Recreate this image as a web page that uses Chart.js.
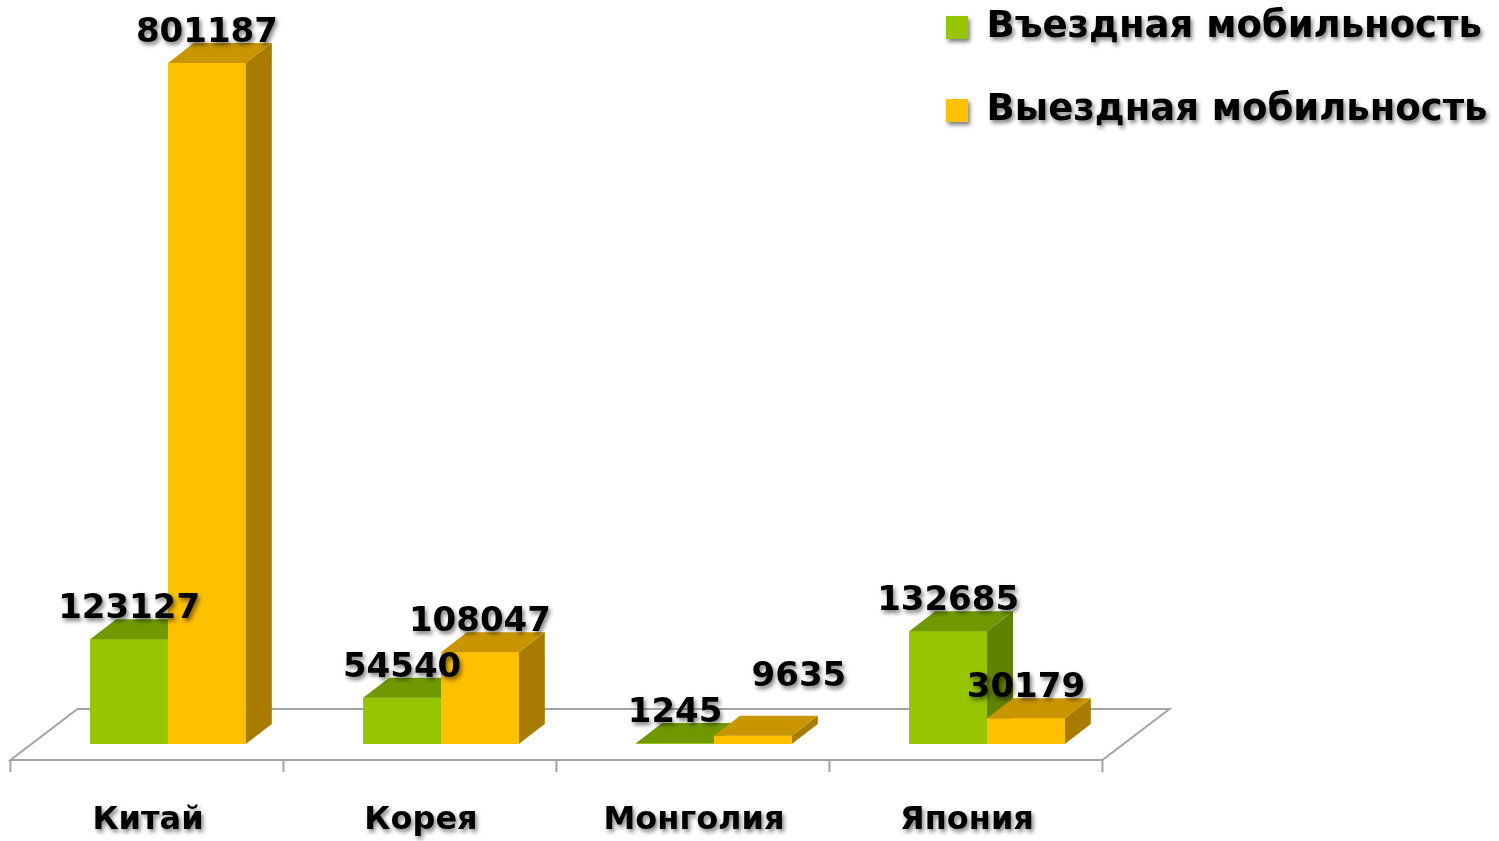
<!DOCTYPE html>
<html>
<head>
<meta charset="utf-8">
<script src="https://cdn.jsdelivr.net/npm/chart.js@4.4.1/dist/chart.umd.min.js"></script>
<style>
html,body{margin:0;padding:0;background:#ffffff;overflow:hidden;}
canvas{display:block;}
</style>
</head>
<body>
<canvas id="c" width="1499" height="841"></canvas>
<script>
// ---- data ----
const categories = ['Китай', 'Корея', 'Монголия', 'Япония'];
const seriesNames = ['Въездная мобильность', 'Выездная мобильность'];
const inbound = [123127, 54540, 1245, 132685];
const outbound = [801187, 108047, 9635, 30179];
const yMax = 850000;

// ---- styles ----
const FONT = '"DejaVu Sans", "Liberation Sans", sans-serif';
const DEPTH = { dx: 26, dy: -20 };              // bar depth projection
const FLOOR = { dx: 67, dy: -51, frac: 0.314 }; // floor depth projection, bar plane fraction

function setShadow(ctx) {
  ctx.shadowColor = 'rgba(0,0,0,0.5)';
  ctx.shadowBlur = 4;
  ctx.shadowOffsetX = 2;
  ctx.shadowOffsetY = 3;
}
function clearShadow(ctx) {
  ctx.shadowColor = 'rgba(0,0,0,0)';
  ctx.shadowBlur = 0;
  ctx.shadowOffsetX = 0;
  ctx.shadowOffsetY = 0;
}

const threeD = {
  id: 'threeD',
  afterLayout(chart, args, opts) {
    const lg = chart.legend;
    if (!lg) return;
    const w = lg.width, h = lg.height;
    lg.left = opts.legendLeft; lg.top = opts.legendTop;
    lg.right = lg.left + w; lg.bottom = lg.top + h;
    if (lg.adjustHitBoxes) lg.adjustHitBoxes();
  },
  beforeDraw(chart) {
    setShadow(chart.ctx);
  },
  beforeDatasetsDraw(chart) {
    const ctx = chart.ctx;
    clearShadow(ctx);
    const a = chart.chartArea;
    const xs = chart.scales.x;
    const n = categories.length;
    const step = (xs.getPixelForValue(1) - xs.getPixelForValue(0));
    const x0 = xs.getPixelForValue(0) - step / 2;
    const x1 = xs.getPixelForValue(n - 1) + step / 2;
    const fx = -FLOOR.frac * FLOOR.dx, fy = -FLOOR.frac * FLOOR.dy;
    const bx = (1 - FLOOR.frac) * FLOOR.dx, by = (1 - FLOOR.frac) * FLOOR.dy;
    ctx.save();
    ctx.strokeStyle = '#a3a3a3';
    ctx.lineWidth = 2;
    ctx.beginPath();
    ctx.moveTo(x0 + fx, a.bottom + fy);
    ctx.lineTo(x1 + fx, a.bottom + fy);
    ctx.lineTo(x1 + bx, a.bottom + by);
    ctx.lineTo(x0 + bx, a.bottom + by);
    ctx.closePath();
    ctx.stroke();
    for (let i = 0; i <= n; i++) {
      const tx = x0 + i * step + fx;
      ctx.beginPath();
      ctx.moveTo(tx, a.bottom + fy);
      ctx.lineTo(tx, a.bottom + fy + 12);
      ctx.stroke();
    }
    ctx.restore();
  },
  afterDatasetsDraw(chart, args, opts) {
    const ctx = chart.ctx;
    const dsets = chart.data.datasets;
    // 3D faces: per category, series left to right: side, front, top
    ctx.save();
    clearShadow(ctx);
    for (let i = 0; i < categories.length; i++) {
      dsets.forEach((ds, di) => {
        const bar = chart.getDatasetMeta(di).data[i];
        const p = bar.getProps(['x', 'y', 'base', 'width'], true);
        const l = p.x - p.width / 2, r = p.x + p.width / 2;
        const top = Math.min(p.y, p.base), bot = Math.max(p.y, p.base);
        ctx.fillStyle = ds.sideColor;
        ctx.beginPath();
        ctx.moveTo(r, top);
        ctx.lineTo(r + DEPTH.dx, top + DEPTH.dy);
        ctx.lineTo(r + DEPTH.dx, bot + DEPTH.dy);
        ctx.lineTo(r, bot);
        ctx.closePath();
        ctx.fill();
        bar.draw(ctx);
        ctx.fillStyle = ds.topColor;
        ctx.beginPath();
        ctx.moveTo(l, top);
        ctx.lineTo(r, top);
        ctx.lineTo(r + DEPTH.dx, top + DEPTH.dy);
        ctx.lineTo(l + DEPTH.dx, top + DEPTH.dy);
        ctx.closePath();
        ctx.fill();
      });
    }
    ctx.restore();
    // value labels
    ctx.save();
    setShadow(ctx);
    ctx.font = 'bold 34px ' + FONT;
    ctx.fillStyle = '#000';
    ctx.textAlign = 'center';
    ctx.textBaseline = 'alphabetic';
    dsets.forEach((ds, di) => {
      const meta = chart.getDatasetMeta(di);
      meta.data.forEach((bar, i) => {
        const p = bar.getProps(['x', 'y'], true);
        const nudge = (opts.nudges[di] && opts.nudges[di][i]) || [0, 0];
        ctx.fillText(String(ds.data[i]), p.x + nudge[0], p.y + DEPTH.dy - 1 + nudge[1]);
      });
    });
    ctx.restore();
  }
};

new Chart(document.getElementById('c'), {
  type: 'bar',
  data: {
    labels: categories,
    datasets: [
      { label: seriesNames[0], data: inbound, backgroundColor: '#95c600', topColor: '#709900', sideColor: '#5f8200', borderWidth: 0 },
      { label: seriesNames[1], data: outbound, backgroundColor: '#ffc000', topColor: '#c99600', sideColor: '#a87c00', borderWidth: 0 }
    ]
  },
  options: {
    responsive: false,
    animation: false,
    devicePixelRatio: 1,
    layout: { padding: { left: 31.5, right: 375.5, top: 21.5, bottom: 0 } },
    datasets: { bar: { barPercentage: 1, categoryPercentage: 0.57 } },
    scales: {
      x: {
        grid: { display: false, drawTicks: false },
        border: { display: false },
        ticks: { color: '#000', font: { family: FONT, size: 32, weight: 'bold' }, padding: 57, labelOffset: -20 },
        afterFit(scale) { scale.height = 97; }
      },
      y: { display: false, min: 0, max: yMax }
    },
    plugins: {
      tooltip: { enabled: false },
      legend: {
        position: 'chartArea',
        align: 'start',
        labels: { color: '#000', font: { family: FONT, size: 37, weight: 'bold' }, boxWidth: 22, boxHeight: 23, padding: 46 }
      },
      threeD: { legendLeft: 900, legendTop: -37, nudges: { 1: { 2: [46, -29] } } }
    }
  },
  plugins: [threeD]
});
</script>
</body>
</html>
